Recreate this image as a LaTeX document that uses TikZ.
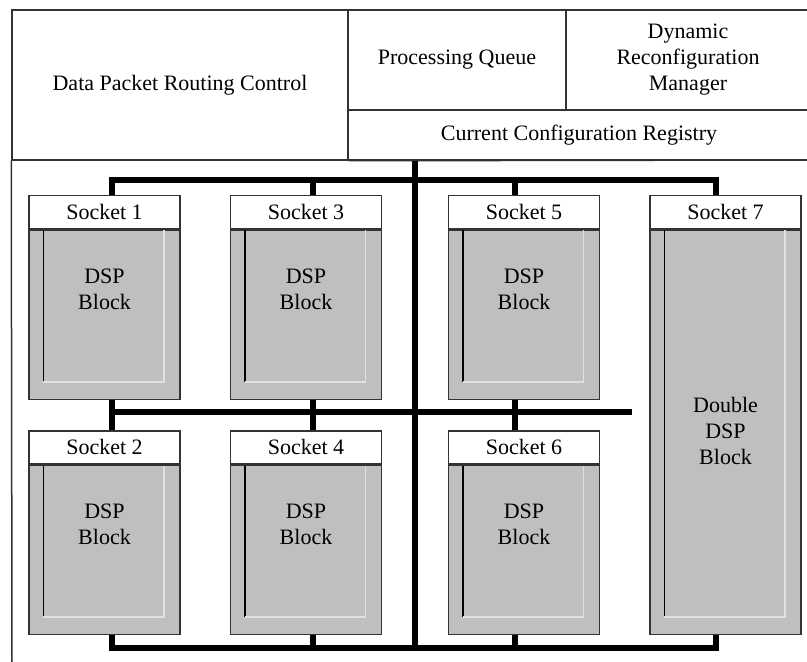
\documentclass[tikz,border=0pt]{standalone}
\usepackage{fontspec}
\setmainfont{Liberation Serif}
\usetikzlibrary{positioning,calc}

\begin{document}
\begin{tikzpicture}[x=0.5pt,y=-0.5pt,
  font=\fontsize{11}{13}\selectfont,
  frame/.style={draw=black!80,line width=0.75pt},
  panel/.style={frame,fill=white,inner sep=0pt,align=center},
  head/.style={frame,fill=white,minimum width=75.5pt,minimum height=16.5pt,inner sep=0pt,anchor=north},
  body/.style={frame,fill=silver,minimum width=75.5pt,inner sep=0pt,anchor=north},
  bus/.style={line width=2.6pt,draw=black},
  dsp/.style={align=center,inner sep=0pt}]
\colorlet{silver}{black!25} \colorlet{shade}{black!50} \colorlet{shine}{black!12}
\useasboundingbox (0,0) rectangle (807,662);
% control panels on top
\node [panel,minimum width=168pt,minimum height=75pt] (ctrl) at (180,85) {Data Packet Routing Control};
\node [panel,minimum width=109pt,minimum height=50pt] (queue) at (457,60) {Processing Queue};
\node [panel,minimum width=122pt,minimum height=50pt] (dyn) at (688,60) {Dynamic\\Reconfiguration\\Manager};
\node [panel,minimum width=231pt,minimum height=25pt] (reg) at (579,135) {Current Configuration Registry};
\draw [frame] (ctrl.south west) -- (12,662);
\draw [frame] (ctrl.south east) -- (810,160);
% bus coordinates
\coordinate (tl) at (112,180); \coordinate (tr) at (716,180);
\coordinate (c3) at (313,180); \coordinate (c5) at (515,180);
\coordinate (ml) at (112,412); \coordinate (mr) at (632,412);
\coordinate (bl) at (112,648); \coordinate (br) at (716,648);
\coordinate (vb) at (415,648);
% sockets
\foreach \n/\x/\y/\h/\dy/\txt in {1/104.5/195/84.5/59.5/{DSP\\Block},3/306/195/84.5/59.5/{DSP\\Block},
  5/524/195/84.5/59.5/{DSP\\Block},2/104.5/430/84.5/59.5/{DSP\\Block},4/306/430/84.5/59.5/{DSP\\Block},
  6/524/430/84.5/59.5/{DSP\\Block},7/725.5/195/202/201/{Double\\DSP\\Block}}{
\node [head] (h\n) at (\x,\y) {Socket \n};
\node [body,minimum height=\h pt] (s\n) at (h\n.south) {};
\draw [shade,line width=0.75pt] ($(s\n.north west)+(15,1)$) -- ($(s\n.south west)+(15,-18)$);
\draw [shine,line width=0.75pt] ($(s\n.south west)+(15,-18)$) -- ($(s\n.south east)+(-17,-18)$) -- ($(s\n.north east)+(-17,1)$);
\node [dsp] (d\n) at ($(h\n.south)+(0,\dy)$) {\txt};
}
% buses
\draw [bus] (reg.south -| vb) -- (vb);
\draw [bus] (h1.north -| tl) -- (tl) -- (tr) -- (h7.north -| tr);
\draw [bus] (c3) -- (h3.north -| c3);
\draw [bus] (c5) -- (h5.north -| c5);
\draw [bus] (ml) -- (mr);
\draw [bus] (s1.south -| ml) -- (h2.north -| ml);
\draw [bus] (s3.south -| c3) -- (h4.north -| c3);
\draw [bus] (s5.south -| c5) -- (h6.north -| c5);
\draw [bus] (s2.south -| bl) -- (bl) -- (br) -- (s7.south -| br);
\draw [bus] (s4.south -| c3) -- (c3 |- bl);
\draw [bus] (s6.south -| c5) -- (c5 |- bl);
\end{tikzpicture}
\end{document}
